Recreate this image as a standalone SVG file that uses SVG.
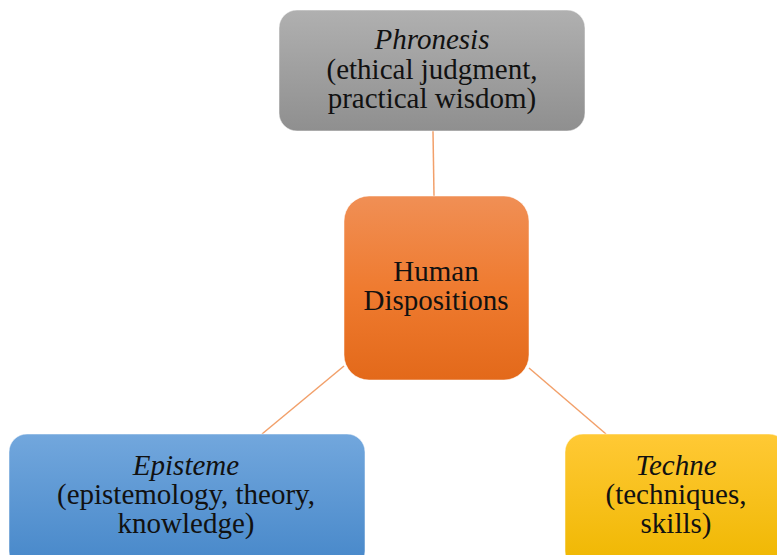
<svg xmlns="http://www.w3.org/2000/svg" width="777" height="555" viewBox="0 0 777 555">
<defs>
<linearGradient id="gGray" x1="0" y1="0" x2="0" y2="1"><stop offset="0" stop-color="#b0b0b0"/><stop offset="1" stop-color="#8f8f8f"/></linearGradient>
<linearGradient id="gOrange" x1="0" y1="0" x2="0" y2="1"><stop offset="0" stop-color="#f08f55"/><stop offset="0.5" stop-color="#ef7b30"/><stop offset="1" stop-color="#e3691a"/></linearGradient>
<linearGradient id="gBlue" x1="0" y1="0" x2="0" y2="1"><stop offset="0" stop-color="#72a7dd"/><stop offset="1" stop-color="#4687c9"/></linearGradient>
<linearGradient id="gYellow" x1="0" y1="0" x2="0" y2="1"><stop offset="0" stop-color="#ffc935"/><stop offset="1" stop-color="#efb700"/></linearGradient>
</defs>
<style>
text{font-family:"Liberation Serif","Times New Roman",serif;font-size:29px;fill:#111;text-anchor:middle}
.it{font-style:italic}
.conn line{stroke:#f2a06a;stroke-width:1.5}
.box{stroke:#ffffff;stroke-opacity:0.5;stroke-width:1}
</style>
<g class="conn" id="connectors">
<line x1="433" y1="131" x2="434" y2="196"/>
<line x1="344" y1="366" x2="262" y2="434"/>
<line x1="529" y1="368" x2="606" y2="434"/>
</g>
<g id="phronesis">
<rect class="box" x="279" y="10" width="306" height="121" rx="18" fill="url(#gGray)"/>
<text x="432" y="49" class="it">Phronesis</text>
<text x="432" y="79">(ethical judgment,</text>
<text x="432" y="108">practical wisdom)</text>
</g>
<g id="human">
<rect class="box" x="344" y="196" width="185" height="184" rx="25" fill="url(#gOrange)"/>
<text x="436" y="281">Human</text>
<text x="436" y="310">Dispositions</text>
</g>
<g id="episteme">
<rect class="box" x="9" y="434" width="356" height="135" rx="18" fill="url(#gBlue)"/>
<text x="186" y="475" class="it">Episteme</text>
<text x="186" y="504">(epistemology, theory,</text>
<text x="186" y="533">knowledge)</text>
</g>
<g id="techne">
<rect class="box" x="565" y="434" width="222" height="135" rx="18" fill="url(#gYellow)"/>
<text x="676" y="475" class="it">Techne</text>
<text x="676" y="504">(techniques,</text>
<text x="676" y="533">skills)</text>
</g>
</svg>
